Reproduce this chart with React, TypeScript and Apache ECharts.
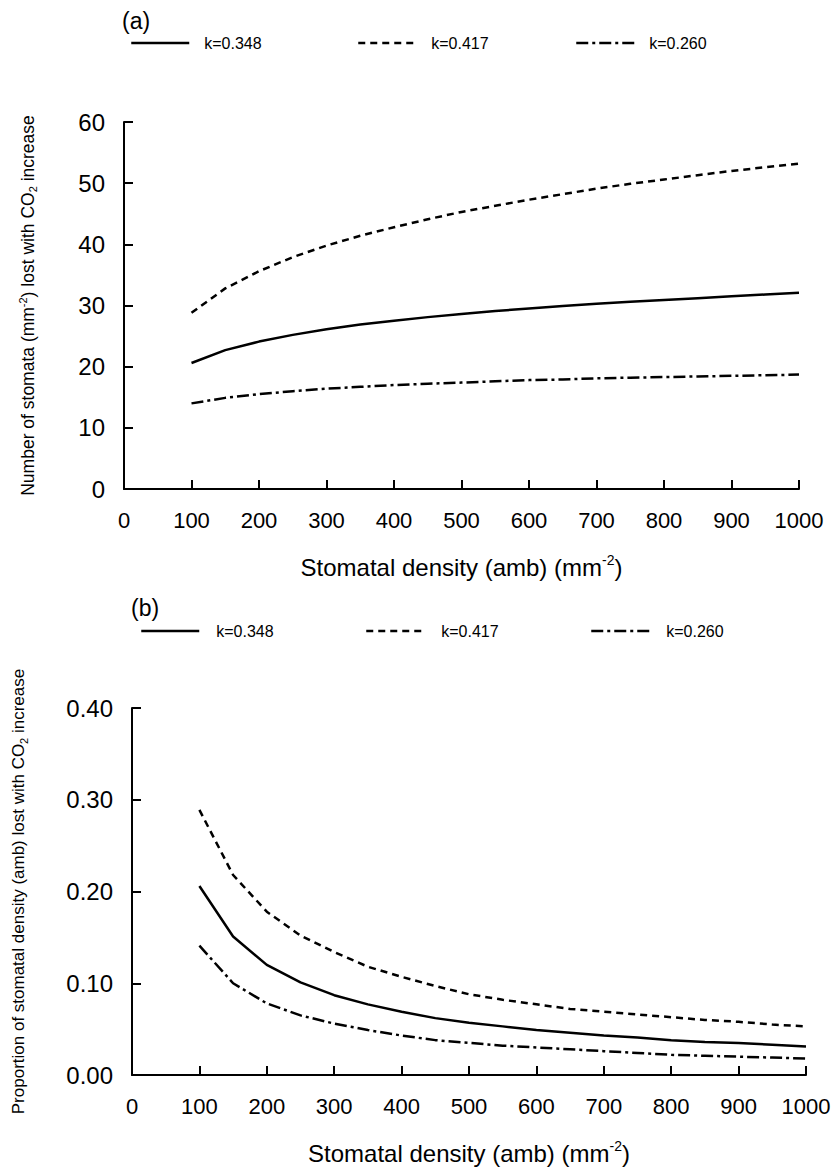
import React, { useEffect, useRef } from "react";
import * as echarts from "echarts";

// Stomatal density (amb), mm^-2
const densities = [100, 150, 200, 250, 300, 350, 400, 450, 500, 550, 600, 650, 700, 750, 800, 850, 900, 950, 1000];

// Panel (a): number of stomata lost with CO2 increase (mm^-2)
const lostK348 = [20.6, 22.7, 24.1, 25.2, 26.1, 26.9, 27.5, 28.1, 28.6, 29.1, 29.5, 29.9, 30.3, 30.6, 30.9, 31.2, 31.5, 31.8, 32.1];
const lostK417 = [28.8, 32.8, 35.6, 37.9, 39.8, 41.4, 42.8, 44.1, 45.3, 46.3, 47.3, 48.2, 49.1, 49.9, 50.6, 51.3, 52.0, 52.6, 53.2];
const lostK260 = [14.0, 14.9, 15.5, 16.0, 16.4, 16.7, 17.0, 17.2, 17.4, 17.6, 17.8, 17.9, 18.1, 18.2, 18.3, 18.4, 18.5, 18.6, 18.7];

// Panel (b): proportion of stomatal density lost with CO2 increase
const propK348 = [0.206, 0.151, 0.120, 0.101, 0.087, 0.077, 0.069, 0.062, 0.057, 0.053, 0.049, 0.046, 0.043, 0.041, 0.038, 0.036, 0.035, 0.033, 0.031];
const propK417 = [0.289, 0.218, 0.178, 0.152, 0.134, 0.118, 0.107, 0.097, 0.088, 0.082, 0.077, 0.072, 0.069, 0.066, 0.063, 0.060, 0.058, 0.055, 0.053];
const propK260 = [0.141, 0.100, 0.078, 0.065, 0.056, 0.049, 0.043, 0.038, 0.035, 0.032, 0.030, 0.028, 0.026, 0.024, 0.022, 0.021, 0.020, 0.019, 0.018];

const seriesNames = ["k=0.348", "k=0.417", "k=0.260"];
const panelLabels = ["(a)", "(b)"];

const FONT = "Liberation Sans, Arial, Helvetica, sans-serif";
const BLACK = "#000";

const lineTypes: any[] = ["solid", [7, 5], [12, 4, 3, 4]];

const pairs = (vals: number[]) => densities.map((d, i) => [d, vals[i]]);

const richName = {
  sup: { fontSize: 11, lineHeight: 11, verticalAlign: "top", fontFamily: FONT, color: BLACK },
  sub: { fontSize: 11, lineHeight: 11, verticalAlign: "bottom", fontFamily: FONT, color: BLACK },
};

export default function App() {
  const ref = useRef<HTMLDivElement>(null);

  useEffect(() => {
    if (!ref.current) return;
    const chart = echarts.init(ref.current, undefined, { renderer: "svg" });

    const tickStyle = { show: true, inside: true, length: 9, lineStyle: { color: BLACK, width: 2 } };

    const xAxisBase = (gridIndex: number) => ({
      type: "value",
      gridIndex,
      min: 0,
      max: 1000,
      interval: 100,
      axisLine: { show: true, onZero: false, lineStyle: { color: BLACK, width: 2 } },
      axisTick: tickStyle,
      axisLabel: {
        color: BLACK,
        fontSize: 22,
        fontFamily: FONT,
        margin: 20,
        formatter: (v: number) => String(v),
      },
      splitLine: { show: false },
      name: "Stomatal density (amb) (mm{sup|-2})",
      nameLocation: "middle",
      nameGap: 64,
      nameTextStyle: {
        color: BLACK,
        fontSize: 24,
        fontFamily: FONT,
        lineHeight: 28,
        rich: {
          sup: { fontSize: 14, lineHeight: 14, verticalAlign: "top", fontFamily: FONT, color: BLACK },
        },
      },
    });

    const yAxisBase = (gridIndex: number) => ({
      type: "value",
      gridIndex,
      min: 0,
      axisLine: { show: true, lineStyle: { color: BLACK, width: 2 } },
      axisTick: tickStyle,
      axisLabel: { color: BLACK, fontSize: 24, fontFamily: FONT, margin: 19 },
      splitLine: { show: false },
      nameLocation: "middle",
    });

    const mkSeries = (name: string, idx: number, vals: number[], axisIndex: number) => ({
      name,
      type: "line",
      xAxisIndex: axisIndex,
      yAxisIndex: axisIndex,
      data: pairs(vals),
      symbol: "none",
      smooth: false,
      lineStyle: { color: BLACK, width: 2.5, type: lineTypes[idx] },
      itemStyle: { color: BLACK },
    });

    const legendLeftA = [125, 352, 570];
    const legendLeftB = [135, 360, 585];
    const legends: any[] = [];
    seriesNames.forEach((n, i) => {
      legends.push({
        data: [n],
        left: legendLeftA[i],
        top: 30,
        itemWidth: 58,
        itemHeight: 16,
        selectedMode: false,
        lineStyle: { width: 2.5, type: "inherit" },
        itemStyle: { opacity: 0, color: "rgba(0,0,0,0)", borderWidth: 0 },
        textStyle: { color: BLACK, fontSize: 16, fontFamily: FONT, padding: [2, 0, 0, 10] },
      });
      legends.push({
        data: [n],
        left: legendLeftB[i],
        top: 618,
        itemWidth: 58,
        itemHeight: 16,
        selectedMode: false,
        lineStyle: { width: 2.5, type: "inherit" },
        itemStyle: { opacity: 0, color: "rgba(0,0,0,0)", borderWidth: 0 },
        textStyle: { color: BLACK, fontSize: 16, fontFamily: FONT, padding: [2, 0, 0, 12] },
      });
    });

    const option: any = {
      animation: false,
      backgroundColor: "#fff",
      textStyle: { fontFamily: FONT, color: BLACK },
      title: [
        { text: panelLabels[0], left: 117, top: 4, textStyle: { fontSize: 23, fontWeight: "normal", color: BLACK, fontFamily: FONT } },
        { text: panelLabels[1], left: 126, top: 591, textStyle: { fontSize: 23, fontWeight: "normal", color: BLACK, fontFamily: FONT } },
      ],
      legend: legends,
      grid: [
        { left: 124, right: 36, top: 122, height: 367, containLabel: false },
        { left: 130, right: 29, top: 708, height: 367, containLabel: false },
      ],
      xAxis: [xAxisBase(0), xAxisBase(1)],
      yAxis: [
        {
          ...yAxisBase(0),
          max: 60,
          interval: 10,
          name: "Number of stomata (mm{sup|-2}) lost with CO{sub|2} increase",
          nameGap: 86,
          nameTextStyle: { color: BLACK, fontSize: 17.5, fontFamily: FONT, lineHeight: 21, rich: richName },
        },
        {
          ...yAxisBase(1),
          max: 0.4,
          interval: 0.1,
          axisLabel: {
            color: BLACK,
            fontSize: 24,
            fontFamily: FONT,
            margin: 19,
            formatter: (v: number) => v.toFixed(2),
          },
          name: "Proportion of stomatal density (amb) lost with CO{sub|2} increase",
          nameGap: 103,
          nameTextStyle: { color: BLACK, fontSize: 17, fontFamily: FONT, lineHeight: 21, rich: richName },
        },
      ],
      series: [
        mkSeries(seriesNames[0], 0, lostK348, 0),
        mkSeries(seriesNames[1], 1, lostK417, 0),
        mkSeries(seriesNames[2], 2, lostK260, 0),
        mkSeries(seriesNames[0], 0, propK348, 1),
        mkSeries(seriesNames[1], 1, propK417, 1),
        mkSeries(seriesNames[2], 2, propK260, 1),
      ],
    };

    chart.setOption(option);
    return () => chart.dispose();
  }, []);

  return (
    <div
      ref={ref}
      style={{ position: "absolute", left: 0, top: 0, width: 835, height: 1170, background: "#fff" }}
    />
  );
}
